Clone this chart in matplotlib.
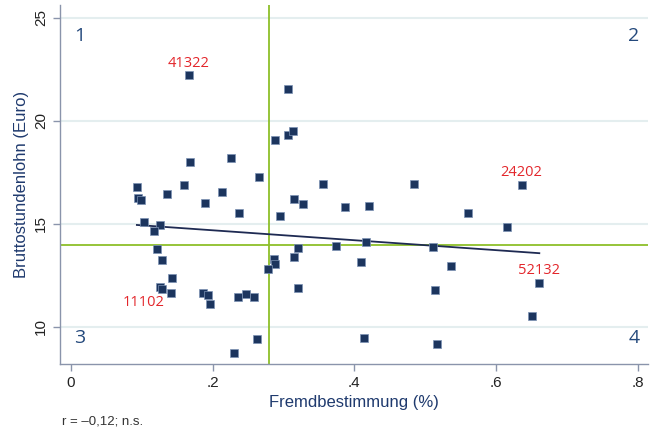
import matplotlib
matplotlib.use('Agg')
import matplotlib.pyplot as plt

plt.rcParams['font.family'] = ['Liberation Sans', 'DejaVu Sans']

# ── Data ──────────────────────────────────────────────────────
fremd = [0.166, 0.306, 0.288, 0.307, 0.313, 0.168, 0.226, 0.265, 0.355, 0.093,
         0.136, 0.160, 0.213, 0.315, 0.484, 0.636, 0.328, 0.387, 0.421, 0.295,
         0.094, 0.099, 0.189, 0.237, 0.103, 0.125, 0.117, 0.122, 0.129, 0.143,
         0.126, 0.128, 0.141, 0.187, 0.194, 0.196, 0.236, 0.247, 0.258, 0.262,
         0.230, 0.287, 0.288, 0.278, 0.320, 0.315, 0.320, 0.374, 0.416, 0.410,
         0.511, 0.536, 0.514, 0.414, 0.517, 0.561, 0.615, 0.661, 0.650]
lohn = [22.23, 21.54, 19.06, 19.34, 19.50, 17.99, 18.21, 17.26, 16.96, 16.81,
        16.44, 16.88, 16.57, 16.21, 16.94, 16.88, 15.96, 15.83, 15.86, 15.39,
        16.25, 16.15, 16.00, 15.54, 15.10, 14.94, 14.68, 13.76, 13.26, 12.39,
        11.96, 11.83, 11.64, 11.67, 11.54, 11.13, 11.47, 11.62, 11.47, 9.43,
        8.74, 13.32, 13.07, 12.80, 13.85, 13.40, 11.87, 13.93, 14.14, 13.16,
        13.87, 12.97, 11.77, 9.45, 9.18, 15.55, 14.85, 12.12, 10.55]

# labelled cases: id, index into data, label offset in pixels
case_ids    = ['41322', '24202', '52132', '11102']
case_idx    = [0, 15, 57, 31]
case_offset = [(0, 12), (0, 13), (0, 13), (-18, -13)]

# fitted line (end points)
fit_x = [0.093, 0.661]
fit_y = [14.95, 13.58]

mean_x = 0.279
mean_y = 13.98

x_ticks  = [0, 0.2, 0.4, 0.6, 0.8]
x_labels = ['0', '.2', '.4', '.6', '.8']
y_ticks  = [10, 15, 20, 25]

navy  = '#1c355e'
green = '#8dbf2a'
red   = '#e3262b'
spine = '#8a94ab'

# ── Plot ──────────────────────────────────────────────────────
fig = plt.figure(figsize=(6.5, 4.32), dpi=100)
ax = fig.add_axes([60 / 650, 68 / 432, 588 / 650, 359 / 432])

ax.set_xlim(-0.0155, 0.8144)
ax.set_ylim(8.20, 25.63)

for yv in y_ticks:
    ax.axhline(yv, color='#e4eeef', linewidth=1.5, zorder=0)

ax.axvline(mean_x, color=green, linewidth=1.3, zorder=1)
ax.axhline(mean_y, color=green, linewidth=1.3, zorder=1)

ax.plot(fit_x, fit_y, color='#1e2a52', linewidth=1.3, zorder=2)

ax.scatter(fremd, lohn, marker='s', s=30, color=navy,
           edgecolors='#7d93b5', linewidths=0.5, zorder=3)

for cid, i, off in zip(case_ids, case_idx, case_offset):
    ax.annotate(cid, (fremd[i], lohn[i]), xytext=off, textcoords='offset pixels',
                ha='center', va='center', color=red, fontsize=10.5,
                family=['Open Sans', 'DejaVu Sans'], zorder=4)

# quadrant numbers
quad_style = dict(color='#24497c', fontsize=14, va='center',
                  family=['Open Sans', 'DejaVu Sans'])
ax.text(0.034, 0.915, '1', transform=ax.transAxes, ha='center', **quad_style)
ax.text(0.976, 0.915, '2', transform=ax.transAxes, ha='center', **quad_style)
ax.text(0.034, 0.072, '3', transform=ax.transAxes, ha='center', **quad_style)
ax.text(0.976, 0.072, '4', transform=ax.transAxes, ha='center', **quad_style)

ax.spines['top'].set_visible(False)
ax.spines['right'].set_visible(False)
for s in ('left', 'bottom'):
    ax.spines[s].set_color(spine)
    ax.spines[s].set_linewidth(1.0)

ax.set_xticks(x_ticks)
ax.set_xticklabels(x_labels)
ax.set_yticks(y_ticks)
ax.tick_params(axis='both', colors=spine, labelcolor='#222222',
               labelsize=11, length=5, width=1)
plt.setp(ax.get_yticklabels(), rotation=90, va='center')

ax.set_xlabel('Fremdbestimmung (%)', fontsize=12, color='#1f3a6e', labelpad=4)
ax.set_ylabel('Bruttostundenlohn (Euro)', fontsize=12, color='#1f3a6e', labelpad=4)

fig.text(62 / 650, 1 - 421 / 432, 'r = \u20130,12; n.s.', fontsize=9.5,
         color='#333333', va='center', ha='left')

fig.savefig('out.png', dpi=100)
